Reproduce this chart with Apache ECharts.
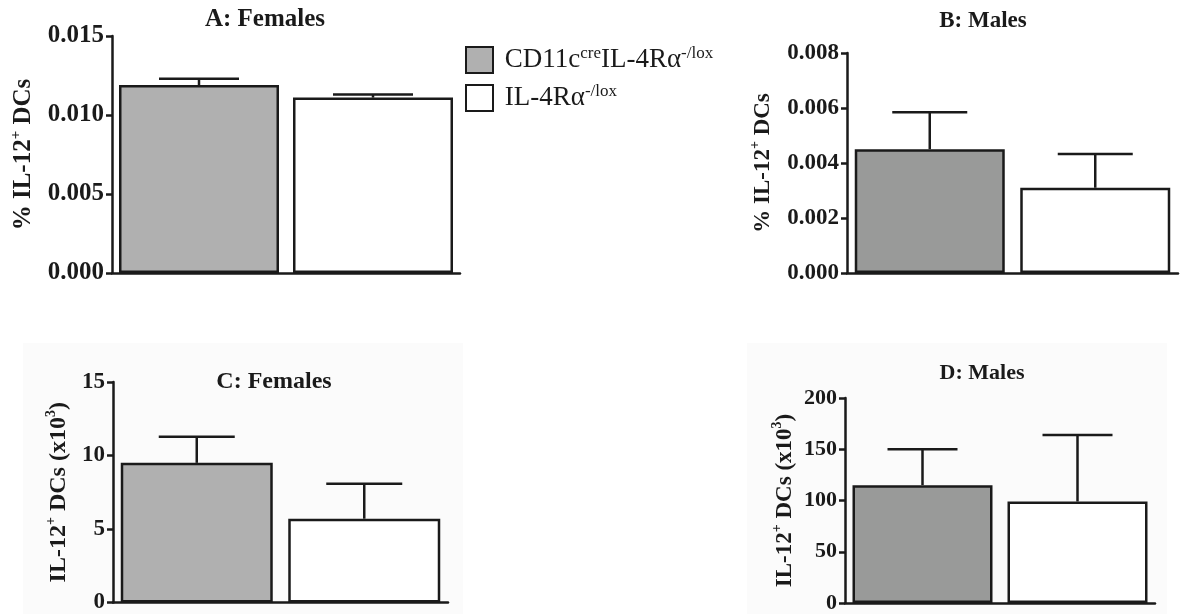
<!DOCTYPE html>
<html>
<head>
<meta charset="utf-8">
<script src="https://cdn.jsdelivr.net/npm/echarts@6/dist/echarts.min.js"></script>
<style>
html,body{margin:0;padding:0;background:#fff;}
#main{width:1181px;height:614px;}
</style>
</head>
<body>
<div id="main"></div>
<script>
// groups (legend)
var groups = ['CD11c-cre IL-4Ra', 'IL-4Ra -/lox'];
var cats = ['cre', 'lox'];

// A: females, % IL-12+ DCs
var pctFemMean = [0.0119, 0.0111];
var pctFemSem = [0.0004, 0.0002];
// B: males, % IL-12+ DCs
var pctMaleMean = [0.0045, 0.0031];
var pctMaleSem = [0.00135, 0.00123];
// C: females, IL-12+ DCs (x10^3)
var numFemMean = [9.5, 5.7];
var numFemSem = [1.77, 2.38];
// D: males, IL-12+ DCs (x10^3)
var numMaleMean = [115, 99];
var numMaleSem = [35, 65];

// y axis ranges / ticks
var yMax = [0.015, 0.008, 15, 200];
var yStep = [0.005, 0.002, 5, 50];
var titles = ['A: Females', 'B: Males', 'C: Females', 'D: Males'];

var font = 'Liberation Serif';
var ink = '#1a1a1a';

var panels = [
    {mean: pctFemMean, sem: pctFemSem, grid: {left: 112, top: 36, width: 348, height: 237}, bw: 160, gray: '#b0b0b0', fs: 25, nameGap: 73, nameFs: 25, dec: 3, tx: 265, ty: 7, tfs: 25, pct: true},
    {mean: pctMaleMean, sem: pctMaleSem, grid: {left: 847, top: 53, width: 331, height: 220}, bw: 150, gray: '#999a99', fs: 23, nameGap: 69, nameFs: 23, dec: 3, tx: 983, ty: 10, tfs: 23, pct: true},
    {mean: numFemMean, sem: numFemSem, grid: {left: 113, top: 382, width: 335, height: 221}, bw: 152, gray: '#b0b0b0', fs: 23, nameGap: 39, nameFs: 24, dec: 0, tx: 274, ty: 370, tfs: 24, pct: false},
    {mean: numMaleMean, sem: numMaleSem, grid: {left: 845, top: 398, width: 310, height: 206}, bw: 140, gray: '#999a99', fs: 22, nameGap: 44, nameFs: 23, dec: 0, tx: 982, ty: 362, tfs: 22, pct: false}
];

var grids = [], xAxes = [], yAxes = [], series = [], titleList = [];

panels.forEach(function (p, i) {
    grids.push(p.grid);
    titleList.push({
        text: titles[i], left: p.tx, top: p.ty, textAlign: 'center', padding: 0,
        textStyle: {fontFamily: font, fontWeight: 'bold', fontSize: p.tfs, color: ink}
    });
    xAxes.push({
        gridIndex: i, type: 'category', data: cats,
        axisLine: {lineStyle: {color: ink, width: 2.5}},
        axisTick: {show: false}, axisLabel: {show: false}
    });
    var dec = p.dec;
    var supFs = Math.round(p.nameFs * 0.6);
    yAxes.push({
        gridIndex: i, type: 'value', min: 0, max: yMax[i], interval: yStep[i],
        splitLine: {show: false},
        axisLine: {show: true, lineStyle: {color: ink, width: 2.5}},
        axisTick: {show: true, length: 6, lineStyle: {color: ink, width: 2.5}},
        axisLabel: {
            fontFamily: font, fontWeight: 'bold', fontSize: p.fs, color: ink, margin: 8,
            formatter: function (v) { return v.toFixed(dec); }
        },
        name: p.pct ? '% IL-12{sup|+} DCs' : 'IL-12{sup|+} DCs (x10{sup|3})',
        nameLocation: 'middle', nameGap: p.nameGap, nameRotate: 90,
        nameTextStyle: {
            fontFamily: font, fontWeight: 'bold', fontSize: p.nameFs, color: ink, lineHeight: 30,
            rich: {sup: {fontFamily: font, fontWeight: 'bold', fontSize: supFs, color: ink, verticalAlign: 'top', lineHeight: 30, padding: [0, 0, 12, 0]}}
        }
    });
    var style = {borderColor: ink, borderWidth: 2.5};
    series.push({
        name: groups[0], type: 'bar', xAxisIndex: i, yAxisIndex: i, barWidth: p.bw, barGap: '-100%',
        itemStyle: Object.assign({color: p.gray}, style),
        data: [p.mean[0], '-'], z: 2
    });
    series.push({
        name: groups[1], type: 'bar', xAxisIndex: i, yAxisIndex: i, barWidth: p.bw, barGap: '-100%',
        itemStyle: Object.assign({color: '#ffffff'}, style),
        data: ['-', p.mean[1]], z: 2
    });
    var half = p.bw / 4;
    series.push({
        type: 'custom', xAxisIndex: i, yAxisIndex: i, z: 3,
        data: p.mean.map(function (m, k) { return [k, m, m + p.sem[k]]; }),
        renderItem: function (params, api) {
            var a = api.coord([api.value(0), api.value(1)]);
            var b = api.coord([api.value(0), api.value(2)]);
            var ls = {stroke: ink, lineWidth: 2.5};
            return {type: 'group', children: [
                {type: 'line', shape: {x1: a[0], y1: a[1], x2: b[0], y2: b[1]}, style: ls},
                {type: 'line', shape: {x1: b[0] - half, y1: b[1], x2: b[0] + half, y2: b[1]}, style: ls}
            ]};
        }
    });
});

var myChart = echarts.init(document.getElementById('main'), null, {renderer: 'canvas'});
var option = {
    backgroundColor: '#ffffff',
    animation: false,
    title: titleList,
    graphic: [
        {type: 'rect', shape: {x: 23, y: 343, width: 440, height: 271}, style: {fill: '#fbfbfb'}, z: -10},
        {type: 'rect', shape: {x: 747, y: 343, width: 420, height: 271}, style: {fill: '#fbfbfb'}, z: -10}
    ],
    legend: {
        orient: 'vertical', left: 465, top: 45, padding: 0, itemWidth: 27, itemHeight: 26, itemGap: 8,
        icon: 'rect',
        data: [
            {name: groups[0], itemStyle: {color: '#b0b0b0', borderColor: ink, borderWidth: 2}},
            {name: groups[1], itemStyle: {color: '#ffffff', borderColor: ink, borderWidth: 2}}
        ],
        formatter: function (n) {
            return n === groups[0] ? ' CD11c{sup|cre}IL-4Rα{sup|-/lox}' : ' IL-4Rα{sup|-/lox}';
        },
        textStyle: {
            fontFamily: font, fontSize: 27, color: ink, lineHeight: 30,
            rich: {sup: {fontFamily: font, fontSize: 17, color: ink, verticalAlign: 'top', lineHeight: 30, padding: [0, 0, 12, 0]}}
        }
    },
    grid: grids,
    xAxis: xAxes,
    yAxis: yAxes,
    series: series
};
myChart.setOption(option);
</script>
</body>
</html>
